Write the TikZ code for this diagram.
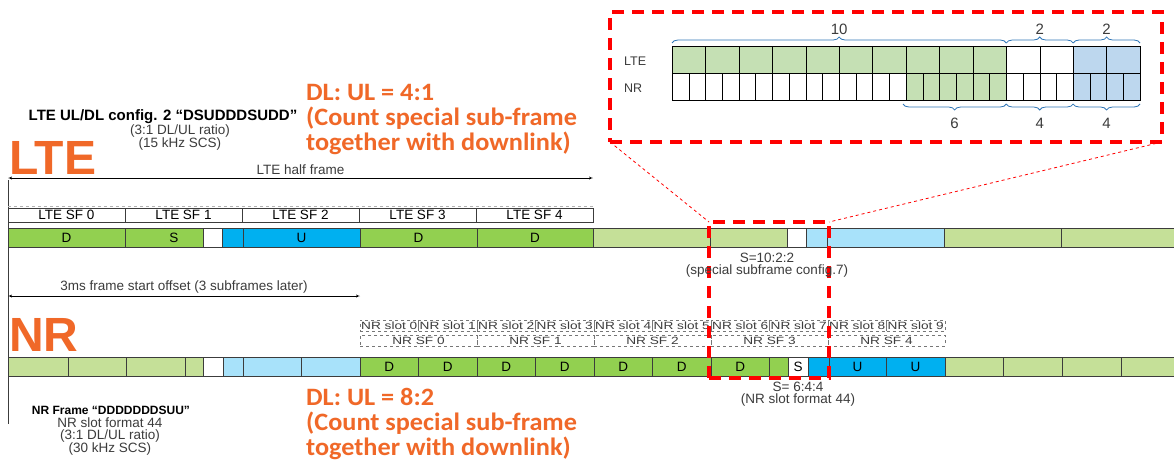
\documentclass[tikz,border=0pt]{standalone}
\usepackage{fontspec}
\setmainfont{Liberation Sans}
\newfontfamily\ratiofont[FakeStretch=1.05]{Carlito}
\newfontfamily\wideFont[FakeStretch=1.3]{Liberation Sans}
\usepackage{tikz}
\usetikzlibrary{calc}
\usetikzlibrary{positioning}
\usetikzlibrary{shapes,arrows}
\usetikzlibrary{decorations.pathreplacing}

\definecolor{dlGreen}{RGB}{146,208,80}
\definecolor{oldGreen}{RGB}{197,224,152}
\definecolor{ulBlue}{RGB}{0,176,240}
\definecolor{oldBlue}{RGB}{168,226,250}
\definecolor{zoomGreen}{RGB}{197,224,180}
\definecolor{zoomBlue}{RGB}{189,215,238}
\definecolor{braceBlue}{RGB}{46,117,182}
\definecolor{ratioOrange}{RGB}{240,104,40}
\definecolor{barLine}{RGB}{60,60,60}
\definecolor{labelGrey}{RGB}{60,60,60}

\newcommand{\smallLbl}{\fontsize{13.5}{15}\selectfont}
\newcommand{\slotLbl}{\wideFont\fontsize{10.5}{11}\selectfont}
\newcommand{\boldLbl}{\fontsize{15}{16}\selectfont\bfseries}
\newcommand{\bigLbl}{\fontsize{48}{50}\selectfont\bfseries}
\newcommand{\ratioLbl}{\ratiofont\fontsize{25}{25}\selectfont\bfseries}

\begin{document}
\begin{tikzpicture} [>=latex', x=1pt, y=-1pt]
            % Set primary nodes
            \tikzset{
                segNode/.style={
                        draw=barLine,
                        rectangle,
                        minimum height=19pt,
                        inner sep=0pt,
                        outer sep=0pt,
                        font=\smallLbl
                    }
            }
            \tikzset{
                sfNode/.style={
                        draw=barLine,
                        rectangle,
                        minimum height=14pt,
                        minimum width=117pt,
                        inner sep=0pt,
                        outer sep=0pt,
                        font=\smallLbl
                    }
            }
            \tikzset{
                slotNode/.style={
                        draw=barLine!70,
                        dashed,
                        rectangle,
                        minimum height=11pt,
                        minimum width=58.5pt,
                        inner sep=0pt,
                        outer sep=0pt,
                        text=labelGrey,
                        font=\slotLbl
                    }
            }
            \tikzset{
                cellNode/.style={
                        draw=black,
                        rectangle,
                        minimum height=27pt,
                        inner sep=0pt,
                        outer sep=0pt,
                        anchor=north west
                    }
            }
            \tikzset{
                zoomNode/.style={
                        draw=red,
                        line width=3.5pt,
                        dash pattern=on 12pt off 8pt,
                        rectangle,
                        inner sep=0pt,
                        outer sep=0pt,
                        anchor=north west
                    }
            }
            \tikzset{
                textNode/.style={
                        inner sep=0pt,
                        text=labelGrey,
                        font=\smallLbl
                    }
            }
            \tikzset{
                ratioNode/.style={
                        inner sep=0pt,
                        anchor=base west,
                        text=ratioOrange,
                        font=\ratioLbl
                    }
            }
            \tikzset{
                braceLine/.style={
                        draw=braceBlue,
                        thick,
                        decorate,
                        decoration={brace, amplitude=6pt}
                    }
            }
            % Configure arrows
            \tikzstyle{arrow} = [thin, <->, >=latex']
            \fill[white] (0,0) rectangle (1174,461);
            \useasboundingbox (0,0) rectangle (1174,461);
            % Placing nodes
            \node[segNode, fill=dlGreen, minimum width=117pt, anchor=north west](lteA) at (8,228){D};
            \node[segNode, fill=dlGreen, minimum width=78pt, right = 0pt of lteA](lteB){\hspace*{20pt}S};
            \node[segNode, fill=white, minimum width=19pt, right = 0pt of lteB](lteC){};
            \node[segNode, fill=ulBlue, minimum width=21pt, right = 0pt of lteC](lteD){};
            \node[segNode, fill=ulBlue, minimum width=117pt, right = 0pt of lteD](lteE){U};
            \node[segNode, fill=dlGreen, minimum width=117pt, right = 0pt of lteE](lteF){D};
            \node[segNode, fill=dlGreen, minimum width=116pt, right = 0pt of lteF](lteG){D};
            \node[segNode, fill=oldGreen, minimum width=117pt, right = 0pt of lteG](lteH){};
            \node[segNode, fill=oldGreen, minimum width=77pt, right = 0pt of lteH](lteI){};
            \node[segNode, fill=white, minimum width=19pt, right = 0pt of lteI](lteJ){};
            \node[segNode, fill=oldBlue, minimum width=21pt, right = 0pt of lteJ](lteK){};
            \node[segNode, fill=oldBlue, minimum width=117pt, right = 0pt of lteK](lteL){};
            \node[segNode, fill=oldGreen, minimum width=117pt, right = 0pt of lteL](lteM){};
            \node[segNode, fill=oldGreen, minimum width=117pt, right = 0pt of lteM](lteN){};
            \node[sfNode, anchor=north west](sf0) at (8,208){LTE SF 0};
            \node[sfNode, right = 0pt of sf0](sf1){LTE SF 1};
            \node[sfNode, right = 0pt of sf1](sf2){LTE SF 2};
            \node[sfNode, right = 0pt of sf2](sf3){LTE SF 3};
            \node[sfNode, right = 0pt of sf3](sf4){LTE SF 4};
            \node[segNode, fill=oldGreen, minimum width=60pt, anchor=north west](nrA) at (8,357){};
            \node[segNode, fill=oldGreen, minimum width=58pt, right = 0pt of nrA](nrB){};
            \node[segNode, fill=oldGreen, minimum width=59pt, right = 0pt of nrB](nrC){};
            \node[segNode, fill=oldGreen, minimum width=18pt, right = 0pt of nrC](nrD){};
            \node[segNode, fill=white, minimum width=20pt, right = 0pt of nrD](nrE){};
            \node[segNode, fill=oldBlue, minimum width=20pt, right = 0pt of nrE](nrF){};
            \node[segNode, fill=oldBlue, minimum width=58.5pt, right = 0pt of nrF](nrG){};
            \node[segNode, fill=oldBlue, minimum width=58.5pt, right = 0pt of nrG](nrH){};
            \node[segNode, fill=dlGreen, minimum width=58.5pt, right = 0pt of nrH](nrI){D};
            \node[segNode, fill=dlGreen, minimum width=58.5pt, right = 0pt of nrI](nrJ){D};
            \node[segNode, fill=dlGreen, minimum width=58.5pt, right = 0pt of nrJ](nrK){D};
            \node[segNode, fill=dlGreen, minimum width=58.5pt, right = 0pt of nrK](nrL){D};
            \node[segNode, fill=dlGreen, minimum width=58.5pt, right = 0pt of nrL](nrM){D};
            \node[segNode, fill=dlGreen, minimum width=58.5pt, right = 0pt of nrM](nrN){D};
            \node[segNode, fill=dlGreen, minimum width=58.5pt, right = 0pt of nrN](nrO){D};
            \node[segNode, fill=dlGreen, minimum width=18.5pt, right = 0pt of nrO](nrP){};
            \node[segNode, fill=white, minimum width=20pt, right = 0pt of nrP](nrQ){S};
            \node[segNode, fill=ulBlue, minimum width=21pt, right = 0pt of nrQ](nrR){};
            \node[segNode, fill=ulBlue, minimum width=57pt, right = 0pt of nrR](nrS){U};
            \node[segNode, fill=ulBlue, minimum width=59pt, right = 0pt of nrS](nrT){U};
            \node[segNode, fill=oldGreen, minimum width=58pt, right = 0pt of nrT](nrU){};
            \node[segNode, fill=oldGreen, minimum width=59pt, right = 0pt of nrU](nrV){};
            \node[segNode, fill=oldGreen, minimum width=59pt, right = 0pt of nrV](nrW){};
            \node[segNode, fill=oldGreen, minimum width=57pt, right = 0pt of nrW](nrX){};
            \node[slotNode, anchor=north west](slot0) at (360,320){NR slot 0};
            \node[slotNode, right = 0pt of slot0](slot1){NR slot 1};
            \node[slotNode, right = 0pt of slot1](slot2){NR slot 2};
            \node[slotNode, right = 0pt of slot2](slot3){NR slot 3};
            \node[slotNode, right = 0pt of slot3](slot4){NR slot 4};
            \node[slotNode, right = 0pt of slot4](slot5){NR slot 5};
            \node[slotNode, right = 0pt of slot5](slot6){NR slot 6};
            \node[slotNode, right = 0pt of slot6](slot7){NR slot 7};
            \node[slotNode, right = 0pt of slot7](slot8){NR slot 8};
            \node[slotNode, right = 0pt of slot8](slot9){NR slot 9};
            \node[slotNode, minimum width=117pt, anchor=north west](nrsf0) at (360,335){NR SF 0};
            \node[slotNode, minimum width=117pt, right = 0pt of nrsf0](nrsf1){NR SF 1};
            \node[slotNode, minimum width=117pt, right = 0pt of nrsf1](nrsf2){NR SF 2};
            \node[slotNode, minimum width=117pt, right = 0pt of nrsf2](nrsf3){NR SF 3};
            \node[slotNode, minimum width=117pt, right = 0pt of nrsf3](nrsf4){NR SF 4};
            % Zoomed view
            \foreach \i in {0,...,9} {\node[cellNode, fill=zoomGreen, minimum width=33.43pt](zl\i) at ({672+\i*33.43},46){};}
            \foreach \i in {10,11} {\node[cellNode, fill=white, minimum width=33.43pt](zl\i) at ({672+\i*33.43},46){};}
            \foreach \i in {12,13} {\node[cellNode, fill=zoomBlue, minimum width=33.43pt](zl\i) at ({672+\i*33.43},46){};}
            \foreach \i in {0,...,13} {\node[cellNode, fill=white, minimum width=16.714pt](zn\i) at ({672+\i*16.714},73){};}
            \foreach \i in {14,...,19} {\node[cellNode, fill=zoomGreen, minimum width=16.714pt](zn\i) at ({672+\i*16.714},73){};}
            \foreach \i in {20,...,23} {\node[cellNode, fill=white, minimum width=16.714pt](zn\i) at ({672+\i*16.714},73){};}
            \foreach \i in {24,...,27} {\node[cellNode, fill=zoomBlue, minimum width=16.714pt](zn\i) at ({672+\i*16.714},73){};}
            \node[textNode, font=\fontsize{12.5}{13}\selectfont, anchor=west](zoomLte) at (624,61){LTE};
            \node[textNode, font=\fontsize{12.5}{13}\selectfont, anchor=west](zoomNr) at (624,88){NR};
            \node[zoomNode, minimum width=552pt, minimum height=130pt](zoomBox) at (610,12){};
            \node[zoomNode, minimum width=120pt, minimum height=156pt](zoomArea) at (709,222){};
            % Texts
            \node[textNode, font=\boldLbl, text=black](lteConfig) at (163,117){LTE UL/DL config. 2 “DSUDDDSUDD”};
            \node[textNode](lteRatio) at (180,131){(3:1 DL/UL ratio)};
            \node[textNode](lteScs) at (180,144){(15 kHz SCS)};
            \node[textNode, font=\bigLbl, text=ratioOrange, anchor=west](lteTitle) at (9,158){LTE};
            \node[textNode, font=\bigLbl, text=ratioOrange, anchor=west](nrTitle) at (9,335){NR};
            \node[ratioNode](lteRatioA) at (306,100){DL: UL = 4:1};
            \node[ratioNode](lteRatioB) at (306,125){(Count special sub-frame};
            \node[ratioNode](lteRatioC) at (306,150){together with downlink)};
            \node[ratioNode](nrRatioA) at (306,405){DL: UL = 8:2};
            \node[ratioNode](nrRatioB) at (306,430){(Count special sub-frame};
            \node[ratioNode](nrRatioC) at (306,455){together with downlink)};
            \node[textNode, font=\fontsize{12}{13}\selectfont\bfseries, text=black](nrFrame) at (111,410){NR Frame “DDDDDDDSUU”};
            \node[textNode](nrFormat) at (110,423){NR slot format 44};
            \node[textNode](nrRatio) at (110,436){(3:1 DL/UL ratio)};
            \node[textNode](nrScs) at (110,449){(30 kHz SCS)};
            \node[textNode](lteSpecialA) at (767,258){S=10:2:2};
            \node[textNode](lteSpecialB) at (767,271){(special subframe config.7)};
            \node[textNode](nrSpecialA) at (798,387){S= 6:4:4};
            \node[textNode](nrSpecialB) at (798,400){(NR slot format 44)};
            \coordinate (halfStart) at (8,178);
            \coordinate (halfEnd) at (593,178);
            \coordinate (offsetStart) at (8,296);
            \coordinate (offsetEnd) at (360,296);
            \coordinate (edgeTop) at (8,180);
            \coordinate (edgeBottom) at (8,424);
            % Draw arrows
            \draw[barLine] (edgeTop) -- (edgeBottom);
            \draw[arrow] (halfStart) -- (halfEnd) node[midway,above=3pt,textNode]{LTE half frame};
            \draw[arrow] (offsetStart) -- (offsetEnd) node[midway,above=3pt,textNode]{3ms frame start offset (3 subframes later)};
            \draw[gray!60, dashed] (sf0.north west) ++(0,-1.5) -- ($(sf4.north east)+(0,-1.5)$);
            \draw[red, dashed, thick] (zoomBox.south west) -- (zoomArea.north west);
            \draw[red, dashed, thick] (zoomBox.south east) -- (zoomArea.north east);
            \draw[braceLine] ($(zl0.north west)+(0,-3)$) -- ($(zl9.north east)+(0,-3)$) node[midway,above=8pt,textNode,font=\fontsize{15}{16}\selectfont]{10};
            \draw[braceLine] ($(zl10.north west)+(0,-3)$) -- ($(zl11.north east)+(0,-3)$) node[midway,above=8pt,textNode,font=\fontsize{15}{16}\selectfont]{2};
            \draw[braceLine] ($(zl12.north west)+(0,-3)$) -- ($(zl13.north east)+(0,-3)$) node[midway,above=8pt,textNode,font=\fontsize{15}{16}\selectfont]{2};
            \draw[braceLine] ($(zn19.south east)+(0,4)$) -- ($(zn14.south west)+(-3,4)$) node[midway,below=14pt,textNode,font=\fontsize{15}{16}\selectfont]{6};
            \draw[braceLine] ($(zn23.south east)+(0,4)$) -- ($(zn20.south west)+(0,4)$) node[midway,below=14pt,textNode,font=\fontsize{15}{16}\selectfont]{4};
            \draw[braceLine] ($(zn27.south east)+(0,4)$) -- ($(zn24.south west)+(0,4)$) node[midway,below=14pt,textNode,font=\fontsize{15}{16}\selectfont]{4};
        \end{tikzpicture}
\end{document}
